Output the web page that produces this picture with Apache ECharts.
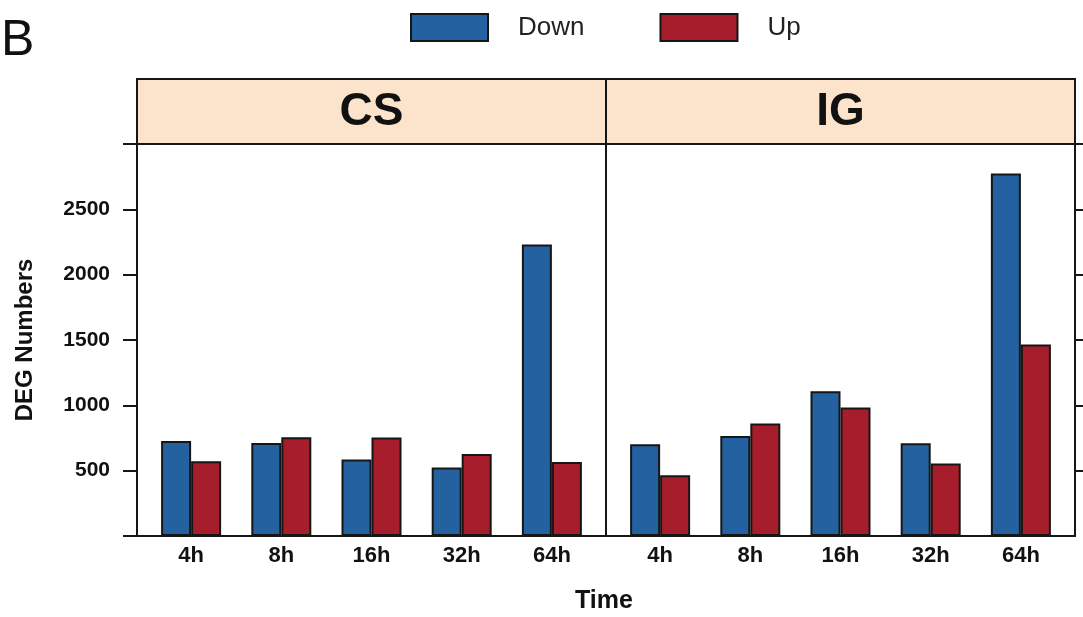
<!DOCTYPE html>
<html><head><meta charset="utf-8">
<script src="https://cdn.jsdelivr.net/npm/echarts@6/dist/echarts.min.js"></script>
<style>html,body{margin:0;padding:0;background:#fff}#c{width:1083px;height:617px}</style>
</head><body><div id="c"></div>
<script>
// ---- data ----
const categories = ['4h', '8h', '16h', '32h', '64h'];
const panels = ['CS', 'IG'];
const seriesNames = ['Down', 'Up'];
const csDown = [727, 712, 585, 524, 2231];
const csUp   = [572, 756, 753, 628, 567];
const igDown = [702, 766, 1108, 710, 2775];
const igUp   = [465, 861, 983, 554, 1466];
const yTicks = [500, 1000, 1500, 2000, 2500];
const rightTicks = [500, 1000, 1500, 2000, 2500, 3000];
const yMin = 0, yMax = 3000, yStep = 500;

// ---- layout ----
const FONT = 'Liberation Sans, Arial, Helvetica, sans-serif';
const LINE = '#161616';
const BLUE = '#2461A0';
const RED = '#A61E2B';
const STRIP = '#FCE3CB';
const P_TOP = 144, P_H = 392, P_W = 469, P_LEFT = [137, 606];
const S_TOP = 79, S_H = 65;
const inset = P_W * 0.1 / 5.2, innerW = P_W * 5 / 5.2;

const chart = echarts.init(document.getElementById('c'), null, {renderer: 'canvas'});

const grids = [], xAxes = [], yAxes = [];
// frames 0,1
P_LEFT.forEach(l => grids.push({left: l, top: P_TOP, width: P_W, height: P_H, show: true,
  backgroundColor: 'transparent', borderColor: LINE, borderWidth: 2, containLabel: false}));
// data 2,3
P_LEFT.forEach(l => grids.push({left: l + inset, top: P_TOP, width: innerW, height: P_H, containLabel: false}));
// strips 4,5
P_LEFT.forEach(l => grids.push({left: l, top: S_TOP, width: P_W, height: S_H, show: true,
  backgroundColor: STRIP, borderColor: LINE, borderWidth: 2, containLabel: false}));

const hiddenX = i => ({type: 'value', gridIndex: i, min: 0, max: 1, show: false});
const hiddenY = i => ({type: 'value', gridIndex: i, min: yMin, max: yMax, show: false});

xAxes.push(hiddenX(0), hiddenX(1));
[2, 3].forEach(g => xAxes.push({type: 'category', gridIndex: g, data: categories,
  axisLine: {show: false}, axisTick: {show: false}, splitLine: {show: false},
  axisLabel: {fontFamily: FONT, fontWeight: 'bold', fontSize: 22, color: '#111', margin: 9}}));
xAxes.push(hiddenX(4), hiddenX(5));

yAxes.push({type: 'value', gridIndex: 0, position: 'left', min: yMin, max: yMax, interval: yStep,
  axisLine: {show: false, onZero: false}, splitLine: {show: false},
  axisTick: {show: true, length: 14, lineStyle: {color: LINE, width: 2}},
  axisLabel: {fontFamily: FONT, fontWeight: 'bold', fontSize: 21, color: '#111', margin: 27,
    formatter: v => yTicks.includes(v) ? String(v) : ''},
  name: 'DEG Numbers', nameLocation: 'middle', nameGap: 100,
  nameTextStyle: {fontFamily: FONT, fontWeight: 'bold', fontSize: 24, color: '#111'}});
yAxes.push({type: 'value', gridIndex: 1, position: 'right', min: yMin, max: yMax, interval: yStep,
  axisLine: {show: false, onZero: false}, splitLine: {show: false},
  axisTick: {show: true, length: 10, customValues: rightTicks, lineStyle: {color: LINE, width: 2}},
  axisLabel: {show: false}});
yAxes.push(hiddenY(2), hiddenY(3), hiddenY(4), hiddenY(5));

const barStyle = c => ({color: c, borderColor: LINE, borderWidth: 2});
const mk = (name, data, g, c) => ({type: 'bar', name, data, xAxisIndex: g, yAxisIndex: g,
  barWidth: 30, barGap: '0%', itemStyle: barStyle(c), emphasis: {disabled: true}, animation: false});

const series = [
  mk(seriesNames[0], csDown, 2, BLUE), mk(seriesNames[1], csUp, 2, RED),
  mk(seriesNames[0], igDown, 3, BLUE), mk(seriesNames[1], igUp, 3, RED)
];

const titles = [
  {text: 'B', left: 1, top: 41, textVerticalAlign: 'middle', padding: 0,
   textStyle: {fontFamily: FONT, fontWeight: 'normal', fontSize: 50, color: '#111'}},
  {text: 'Time', left: 604, top: 601, textAlign: 'center', textVerticalAlign: 'middle', padding: 0,
   textStyle: {fontFamily: FONT, fontWeight: 'bold', fontSize: 25, color: '#111'}}
];
panels.forEach((p, i) => titles.push({text: p, left: P_LEFT[i] + P_W / 2, top: 112,
  textAlign: 'center', textVerticalAlign: 'middle', padding: 0,
  textStyle: {fontFamily: FONT, fontWeight: 'bold', fontSize: 46, color: '#111'}}));

chart.setOption({
  animation: false,
  backgroundColor: '#fff',
  title: titles,
  legend: {data: seriesNames, left: 410, top: 13, padding: 0, itemWidth: 77, itemHeight: 27, itemGap: 75,
    icon: 'rect', selectedMode: false,
    textStyle: {fontFamily: FONT, fontSize: 26, color: '#222', padding: [0, 0, 0, 25]}},
  grid: grids, xAxis: xAxes, yAxis: yAxes, series
});
</script></body></html>
